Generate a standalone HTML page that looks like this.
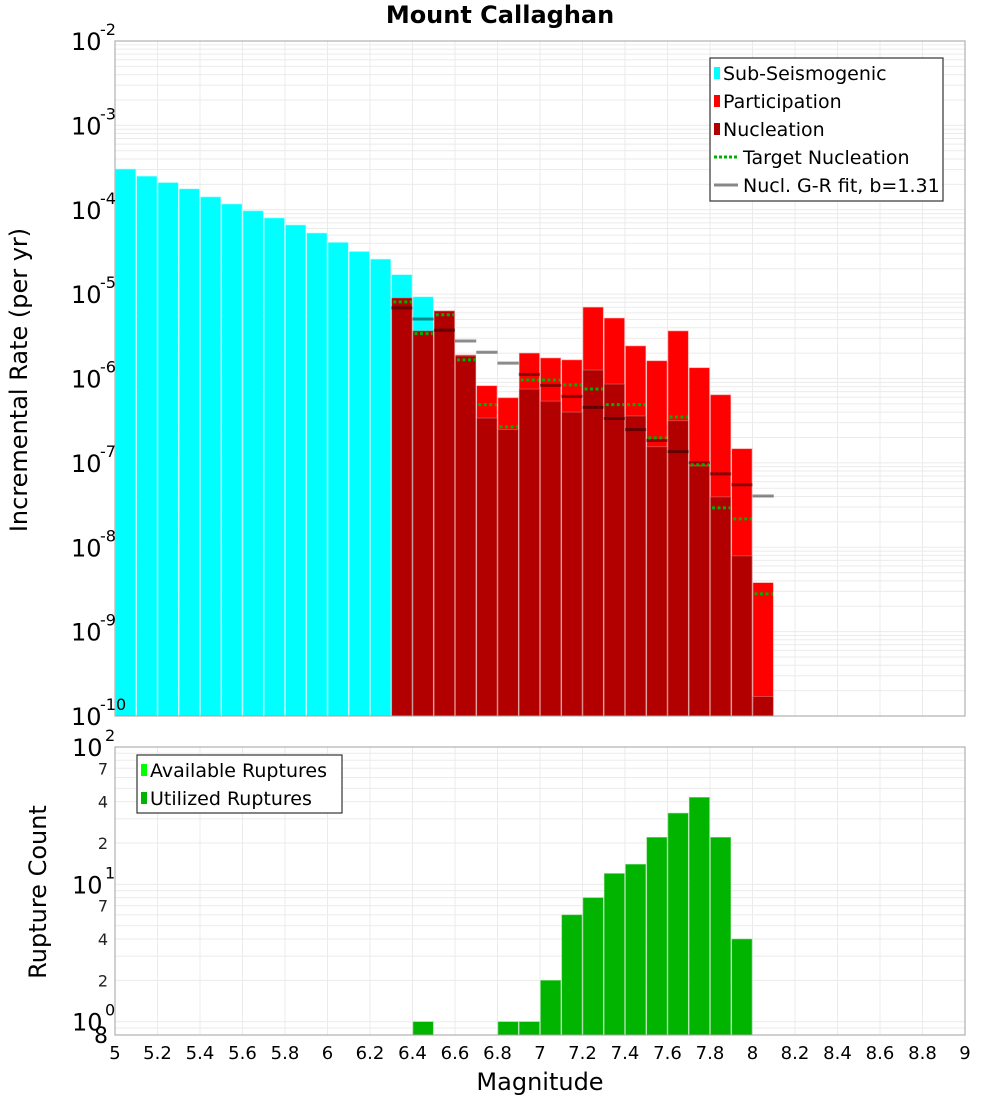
<!DOCTYPE html>
<html><head><meta charset="utf-8"><style>
body{margin:0;background:#fff;}
svg text{font-family:"DejaVu Sans","Liberation Sans",sans-serif;}
</style></head><body>
<svg id="chart" width="1000" height="1100" xmlns="http://www.w3.org/2000/svg"></svg>
<script>
const binCenters=[5.05,5.15,5.25,5.35,5.45,5.55,5.65,5.75,5.85,5.95,6.05,6.15,6.25,6.35,6.45,6.55,6.65,6.75,6.85,6.95,7.05,7.15,7.25,7.35,7.45,7.55,7.65,7.75,7.85,7.95,8.05];
const subSeisMags=[5.05,5.15,5.25,5.35,5.45,5.55,5.65,5.75,5.85,5.95,6.05,6.15,6.25,6.35,6.45];
const subSeisRates=[3.04e-4,2.5e-4,2.1e-4,1.77e-4,1.42e-4,1.17e-4,9.7e-5,8.0e-5,6.6e-5,5.3e-5,4.1e-5,3.2e-5,2.6e-5,1.7e-5,9.3e-6];
const faultMags=[6.35,6.45,6.55,6.65,6.75,6.85,6.95,7.05,7.15,7.25,7.35,7.45,7.55,7.65,7.75,7.85,7.95,8.05];
const participationRates=[9.0e-6,5.0e-6,6.3e-6,1.9e-6,8.2e-7,5.9e-7,2.0e-6,1.75e-6,1.66e-6,7.0e-6,5.2e-6,2.43e-6,1.62e-6,3.66e-6,1.34e-6,6.4e-7,1.47e-7,3.8e-9];
const nucleationRates=[9.0e-6,3.66e-6,6.3e-6,1.85e-6,3.4e-7,2.5e-7,7.5e-7,5.4e-7,4.0e-7,1.26e-6,8.6e-7,3.6e-7,1.55e-7,3.15e-7,9.2e-8,3.95e-8,7.9e-9,1.7e-10];
const targetNucleation=[8.1e-6,3.4e-6,5.7e-6,1.66e-6,4.9e-7,2.67e-7,9.6e-7,9.6e-7,8.4e-7,7.5e-7,4.9e-7,4.9e-7,1.98e-7,3.5e-7,9.5e-8,2.93e-8,2.17e-8,2.8e-9];
const grFit=[6.86e-6,5.07e-6,3.75e-6,2.78e-6,2.05e-6,1.52e-6,1.12e-6,8.3e-7,6.14e-7,4.54e-7,3.36e-7,2.48e-7,1.84e-7,1.36e-7,1.0e-7,7.4e-8,5.5e-8,4.05e-8];
const countMags=[6.45,6.85,6.95,7.05,7.15,7.25,7.35,7.45,7.55,7.65,7.75,7.85,7.95];
const utilizedCounts=[1,1,1,2,6,8,12,14,22,33,43,22,4];
const xTicks=["5","5.2","5.4","5.6","5.8","6","6.2","6.4","6.6","6.8","7","7.2","7.4","7.6","7.8","8","8.2","8.4","8.6","8.8","9"];
const topExps=[-2,-3,-4,-5,-6,-7,-8,-9,-10];
const botMinor=[2,4,7,20,40,70];

const NS="http://www.w3.org/2000/svg";
const svg=document.getElementById('chart');
function mk(tag,attrs,parent){const e=document.createElementNS(NS,tag);for(const k in attrs)e.setAttribute(k,attrs[k]);(parent||svg).appendChild(e);return e;}
const L=115,R=965,T1=41,B1=716,T2=747,B2=1035;
const X=v=>L+(v-5)/4*(R-L);
const Y1=v=>T1+(-2-Math.log10(v))/8*(B1-T1);
const lo2=Math.log10(0.8);
const Y2=v=>T2+(2-Math.log10(v))/(2-lo2)*(B2-T2);
const bw=(R-L)/40;

const g1=mk('g',{});
for(let e=-10;e<-2;e++)for(let m=1;m<10;m++){const y=Y1(m*Math.pow(10,e));mk('line',{x1:L,x2:R,y1:y,y2:y,stroke:'#ebebeb','stroke-width':1},g1);}
for(let i=0;i<xTicks.length;i++){const x=X(+xTicks[i]);mk('line',{x1:x,x2:x,y1:T1,y2:B1,stroke:'#ebebeb'},g1);mk('line',{x1:x,x2:x,y1:T2,y2:B2,stroke:'#ebebeb'},g1);}
const g2=mk('g',{});
[0.8,0.9,1,2,3,4,5,6,7,8,9,10,20,30,40,50,60,70,80,90].forEach(v=>{const y=Y2(v);mk('line',{x1:L,x2:R,y1:y,y2:y,stroke:'#ebebeb'},g2);});

participationRates.forEach((v,i)=>{const x=X(faultMags[i])-bw/2;const r=mk('rect',{x:x+0.5,y:Y1(v),width:bw-1,height:B1-Y1(v),fill:'#ff0000',stroke:'#ff9090','stroke-width':0.6});
});
subSeisRates.forEach((v,i)=>{const x=X(subSeisMags[i])-bw/2;const r=mk('rect',{x:x+0.5,y:Y1(v),width:bw-1,height:B1-Y1(v),fill:'#00ffff',stroke:'#a0ffff','stroke-width':0.6});
});
nucleationRates.forEach((v,i)=>{const x=X(faultMags[i])-bw/2;const r=mk('rect',{x:x+0.5,y:Y1(v),width:bw-1,height:B1-Y1(v),fill:'#b20000',stroke:'#d07070','stroke-width':0.6});
});
grFit.forEach((v,i)=>{const x=X(faultMags[i]);const l=mk('line',{x1:x-bw/2,x2:x+bw/2,y1:Y1(v),y2:Y1(v),stroke:'rgba(0,0,0,0.45)','stroke-width':3});
});
targetNucleation.forEach((v,i)=>{const x=X(faultMags[i]);const l=mk('line',{x1:x-bw/2+2,x2:x+bw/2-1,y1:Y1(v),y2:Y1(v),stroke:'#00b000','stroke-width':3,'stroke-dasharray':'3,2.5'});
});
utilizedCounts.forEach((v,i)=>{const x=X(countMags[i])-bw/2;const r=mk('rect',{x:x+0.5,y:Y2(v),width:bw-1,height:B2-Y2(v),fill:'#00b400',stroke:'#80d880','stroke-width':0.6});
});

let f=mk('rect',{x:L,y:T1,width:R-L,height:B1-T1,fill:'none',stroke:'#a0a0a0'});
f=mk('rect',{x:L,y:T2,width:R-L,height:B2-T2,fill:'none',stroke:'#a0a0a0'});

topExps.forEach(e=>{const y=Y1(Math.pow(10,e));const t=mk('text',{x:71,y:y+9,'font-size':24,fill:'#000'});t.textContent='10';

const s=mk('text',{x:100,y:y-6,'font-size':16,fill:'#000'});s.textContent=String(e);});
[[1,'0'],[10,'1'],[100,'2']].forEach(p=>{const y=Y2(p[0]);const t=mk('text',{x:72,y:y+9,'font-size':24});t.textContent='10';

const s=mk('text',{x:105,y:y-6,'font-size':16});s.textContent=p[1];});
botMinor.forEach(v=>{const t=mk('text',{x:108,y:Y2(v)+6,'font-size':16,'text-anchor':'end',fill:'#222'});t.textContent=String(v%10===0?v/10:v);
});
{const t=mk('text',{x:108,y:B2+8,'font-size':22,'text-anchor':'end'});t.textContent='8';}
xTicks.forEach(s=>{const t=mk('text',{x:X(+s),y:1059,'font-size':18,'text-anchor':'middle'});t.textContent=s;
});

let t=mk('text',{x:500,y:23,'font-size':24,'font-weight':'bold','text-anchor':'middle'});t.textContent='Mount Callaghan';
t=mk('text',{x:540,y:1090,'font-size':24,'text-anchor':'middle'});t.textContent='Magnitude';
t=mk('text',{x:0,y:0,'font-size':24,'text-anchor':'middle',transform:'translate(27,380) rotate(-90)'});t.textContent='Incremental Rate (per yr)';
t=mk('text',{x:0,y:0,'font-size':24,'text-anchor':'middle',transform:'translate(46,892) rotate(-90)'});t.textContent='Rupture Count';

function legend(x,y,w,h,items,name){const g=mk('g',{});
mk('rect',{x:x,y:y,width:w,height:h,fill:'#fff',stroke:'#333','stroke-width':1.2},g);
items.forEach((it,i)=>{const cy=y+15+i*28;
if(it[2]==='sq')mk('rect',{x:x+4,y:cy-6,width:6,height:12,fill:it[1]},g);
else mk('line',{x1:x+4,x2:x+28,y1:cy,y2:cy,stroke:it[1],'stroke-width':3,'stroke-dasharray':it[2]==='dot'?'3,2':'none'},g);
const tx=mk('text',{x:x+(it[2]==='sq'?13:33),y:cy+7,'font-size':19},g);tx.textContent=it[0];
});}
legend(710,58,233,143,[['Sub-Seismogenic','#00ffff','sq'],['Participation','#ff0000','sq'],['Nucleation','#b20000','sq'],['Target Nucleation','#00b000','dot'],['Nucl. G-R fit, b=1.31','#888','line']],'rate-legend');
legend(137,755,205,58,[['Available Ruptures','#00ff00','sq'],['Utilized Ruptures','#00b400','sq']],'count-legend');
</script>
</body></html>
